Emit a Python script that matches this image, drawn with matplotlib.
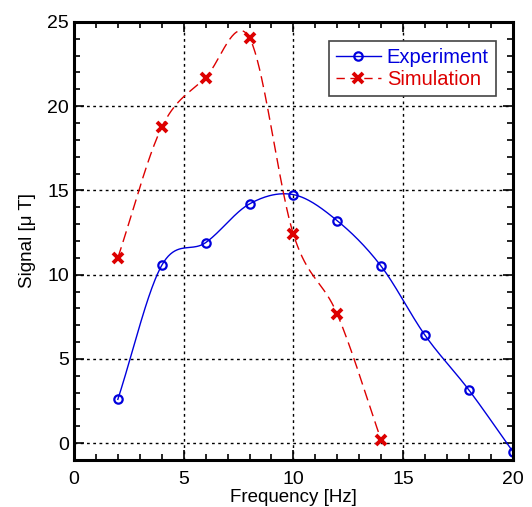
import numpy as np
import matplotlib
matplotlib.use("Agg")
import matplotlib.pyplot as plt
from matplotlib.ticker import MultipleLocator

plt.rcParams['font.family'] = ['Liberation Sans', 'DejaVu Sans']

freq_exp = [2, 4, 6, 8, 10, 12, 14, 16, 18, 20]
signal_exp = [2.6, 10.55, 11.9, 14.2, 14.75, 13.2, 10.5, 6.4, 3.15, -0.5]

freq_sim = [2, 4, 6, 8, 10, 12, 14]
signal_sim = [11.0, 18.75, 21.7, 24.05, 12.4, 7.65, 0.18]


def smooth(x, y, n=40):
    """Catmull-Rom curve through the points (like a spreadsheet 'smoothed line')."""
    x = np.asarray(x, float)
    y = np.asarray(y, float)
    m = np.zeros_like(y)
    m[1:-1] = (y[2:] - y[:-2]) / (x[2:] - x[:-2])
    m[0] = (y[1] - y[0]) / (x[1] - x[0])
    m[-1] = (y[-1] - y[-2]) / (x[-1] - x[-2])
    xs, ys = [], []
    for i in range(len(x) - 1):
        h = x[i + 1] - x[i]
        t = np.linspace(0, 1, n, endpoint=False)
        h00 = 2 * t**3 - 3 * t**2 + 1
        h10 = t**3 - 2 * t**2 + t
        h01 = -2 * t**3 + 3 * t**2
        h11 = t**3 - t**2
        xs.append(x[i] + t * h)
        ys.append(h00 * y[i] + h10 * h * m[i] + h01 * y[i + 1] + h11 * h * m[i + 1])
    xs.append([x[-1]])
    ys.append([y[-1]])
    return np.concatenate(xs), np.concatenate(ys)


fig = plt.figure(figsize=(5.32, 5.07), dpi=100)
ax = fig.add_axes([0.139, 0.0927, 0.825, 0.864])

xe, ye = smooth(freq_exp, signal_exp)
xs, ys = smooth(freq_sim, signal_sim)

ax.plot(xe, ye, color='#0000dd', lw=1)
ax.plot(xs, ys, color='#dd0000', lw=1, dashes=(8, 4))
ax.plot(freq_exp, signal_exp, 'o', color='#0000dd', mfc='none', ms=6, mew=1.6)
ax.plot(freq_sim, signal_sim, 'x', color='#dd0000', ms=7.5, mew=2.8)

# legend proxies (line + marker)
ax.plot([], [], '-o', color='#0000dd', mfc='none', ms=6, mew=1.6, lw=1, label='Experiment')
ax.plot([], [], '--x', color='#dd0000', ms=7.5, mew=2.8, lw=1, dashes=(6, 4), label='Simulation')

ax.set_xlim(0, 20)
ax.set_ylim(-1, 25)
ax.xaxis.set_major_locator(MultipleLocator(5))
ax.xaxis.set_minor_locator(MultipleLocator(1))
ax.yaxis.set_major_locator(MultipleLocator(5))
ax.yaxis.set_minor_locator(MultipleLocator(1))
ax.tick_params(which='both', direction='in', top=True, right=True, labelsize=14, width=1.2)
ax.tick_params(which='major', length=7)
ax.tick_params(which='minor', length=4)
ax.tick_params(axis='x', pad=8)
for s in ax.spines.values():
    s.set_linewidth(2.2)
ax.grid(True, which='major', color='black', linestyle=(0, (2, 2.5)), lw=1)

ax.set_xlabel('Frequency [Hz]', fontsize=13.5, va='center')
ax.xaxis.set_label_coords(0.5, -0.085)
ax.set_ylabel('Signal [\u03bc T]', fontsize=13.5, va='center')
ax.yaxis.set_label_coords(-0.105, 0.5)

leg = ax.legend(loc='upper right', bbox_to_anchor=(0.961, 0.957), borderaxespad=0,
                fontsize=14.5, fancybox=False, edgecolor='#444444', framealpha=1,
                handlelength=2.2, handletextpad=0.3, borderpad=0.35, labelspacing=0.15)
leg.get_frame().set_linewidth(1.2)
for txt, c in zip(leg.get_texts(), ['#0000dd', '#dd0000']):
    txt.set_color(c)

fig.savefig('out.png', dpi=100)
